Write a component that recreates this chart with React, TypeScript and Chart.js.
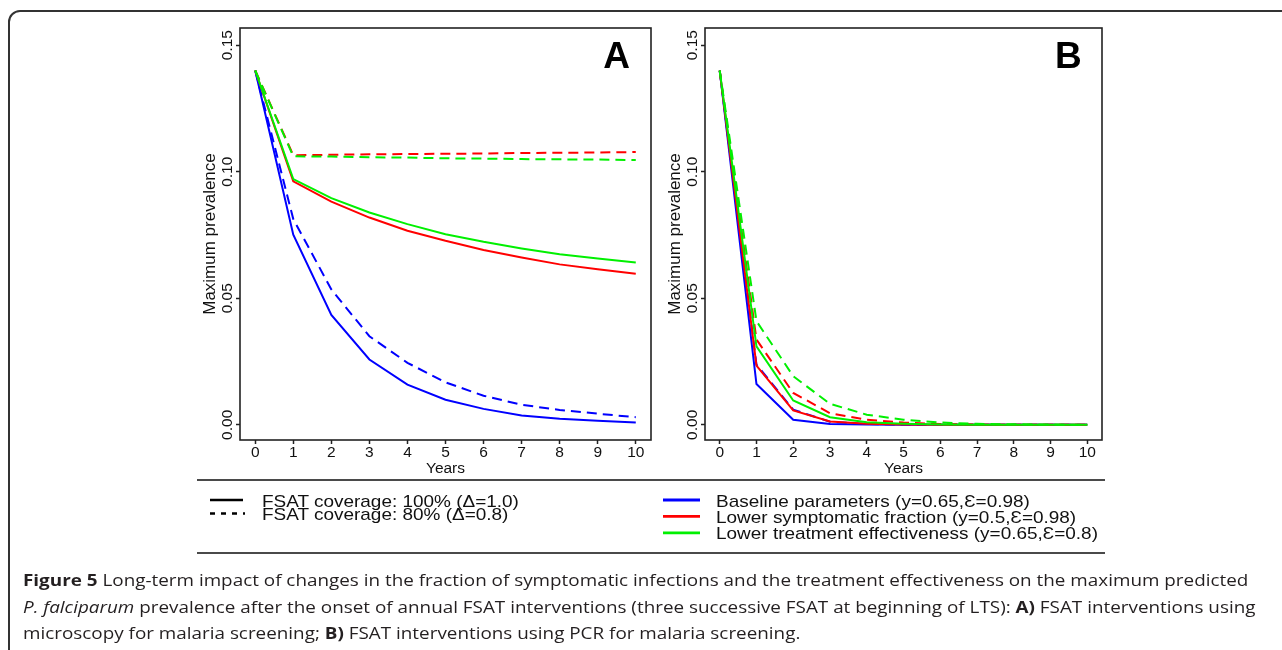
import React, { useEffect, useRef } from "react";
import { Chart, registerables } from "chart.js";

Chart.register(...registerables);

// ---------- data ----------
const years = [0, 1, 2, 3, 4, 5, 6, 7, 8, 9, 10];
const xTickValues = [0, 1, 2, 3, 4, 5, 6, 7, 8, 9, 10];
const yTickValues = [0, 0.05, 0.1, 0.15];
const yTickLabels = ["0.00", "0.05", "0.10", "0.15"];

// Panel A (microscopy)
const aBaseline100 = [0.14, 0.0751, 0.0434, 0.0258, 0.0159, 0.0099, 0.0063, 0.0037, 0.0024, 0.0016, 0.0009];
const aBaseline80 = [0.14, 0.0813, 0.0535, 0.035, 0.0245, 0.0168, 0.0115, 0.0079, 0.0059, 0.0044, 0.003];
const aSympt100 = [0.14, 0.0962, 0.0882, 0.0819, 0.0767, 0.0727, 0.0691, 0.0661, 0.0634, 0.0615, 0.0597];
const aSympt80 = [0.14, 0.1065, 0.1067, 0.1069, 0.107, 0.1071, 0.1072, 0.1074, 0.1075, 0.1076, 0.1078];
const aTreat100 = [0.14, 0.0971, 0.0896, 0.0839, 0.0793, 0.0753, 0.0723, 0.0697, 0.0674, 0.0657, 0.0641];
const aTreat80 = [0.14, 0.1061, 0.106, 0.1057, 0.1056, 0.1053, 0.1052, 0.105, 0.1049, 0.1048, 0.1046];

// Panel B (PCR)
const bBaseline100 = [0.14, 0.0161, 0.002, 0.0003, 0.0001, 0, 0, 0, 0, 0, 0];
const bBaseline80 = [0.14, 0.0238, 0.006, 0.0012, 0.0003, 0.0001, 0, 0, 0, 0, 0];
const bSympt100 = [0.14, 0.0234, 0.0057, 0.0013, 0.0004, 0.0001, 0, 0, 0, 0, 0];
const bSympt80 = [0.14, 0.0337, 0.0126, 0.0046, 0.002, 0.0009, 0.0003, 0.0001, 0, 0, 0];
const bTreat100 = [0.14, 0.031, 0.0096, 0.003, 0.001, 0.0004, 0.0001, 0, 0, 0, 0];
const bTreat80 = [0.14, 0.041, 0.0192, 0.0083, 0.004, 0.002, 0.0009, 0.0004, 0.0002, 0.0001, 0];

const BLUE = "#0000ff";
const RED = "#ff0000";
const GREEN = "#00f000";
const DASH = [10, 6];

const FONT = '"Liberation Sans", Arial, Helvetica, sans-serif';

type Series = { values: number[]; color: string; dashed: boolean };

const panelA: Series[] = [
  { values: aBaseline100, color: BLUE, dashed: false },
  { values: aBaseline80, color: BLUE, dashed: true },
  { values: aSympt100, color: RED, dashed: false },
  { values: aSympt80, color: RED, dashed: true },
  { values: aTreat100, color: GREEN, dashed: false },
  { values: aTreat80, color: GREEN, dashed: true },
];
const panelB: Series[] = [
  { values: bBaseline100, color: BLUE, dashed: false },
  { values: bBaseline80, color: BLUE, dashed: true },
  { values: bSympt100, color: RED, dashed: false },
  { values: bSympt80, color: RED, dashed: true },
  { values: bTreat100, color: GREEN, dashed: false },
  { values: bTreat80, color: GREEN, dashed: true },
];

const boxPlugin = {
  id: "panelBox",
  afterDraw(chart: any, _args: any, opts: any) {
    const { ctx, chartArea } = chart;
    const { left, top, right, bottom } = chartArea;
    ctx.save();
    ctx.strokeStyle = "#222";
    ctx.lineWidth = 1.6;
    ctx.strokeRect(left, top, right - left, bottom - top);
    ctx.fillStyle = "#000";
    ctx.font = "bold 37px " + FONT;
    ctx.textAlign = "right";
    ctx.textBaseline = "alphabetic";
    ctx.fillText(opts.label, right - opts.dx, top + opts.dy);
    ctx.restore();
  },
};

function makeChart(canvas: HTMLCanvasElement, series: Series[], label: string, rightPad: number, dx: number) {
  const n = series.length;
  const datasets = series.map((s, i) => ({
    data: years.map((x, j) => ({ x, y: s.values[j] })),
    borderColor: s.color,
    backgroundColor: s.color,
    borderWidth: 2,
    borderDash: s.dashed ? DASH : [],
    pointRadius: 0,
    tension: 0,
    fill: false,
    order: n - i,
  }));
  const tickFont = { family: FONT, size: 15.5, lineHeight: 1 };
  return new Chart(canvas, {
    type: "line",
    data: { datasets },
    plugins: [boxPlugin],
    options: {
      responsive: false,
      animation: false,
      events: [],
      layout: { padding: { top: 8, right: rightPad, left: 0, bottom: 0 } },
      plugins: {
        legend: { display: false },
        tooltip: { enabled: false },
        panelBox: { label, dx, dy: 40.3 },
      } as any,
      scales: {
        x: {
          type: "linear",
          min: -0.4,
          max: 10.4,
          afterBuildTicks: (s: any) => {
            s.ticks = xTickValues.map((v) => ({ value: v }));
          },
          afterFit: (s: any) => {
            s.height = 40;
          },
          ticks: {
            color: "#111",
            font: tickFont,
            padding: 1,
            maxRotation: 0,
            autoSkip: false,
            callback: (v: any) => String(v),
          },
          grid: {
            drawOnChartArea: false,
            drawTicks: true,
            tickLength: 4,
            tickColor: "#222",
            tickWidth: 1.5,
          },
          border: { display: false },
          title: {
            display: true,
            text: "Years",
            color: "#111",
            font: { family: FONT, size: 15.5, lineHeight: 1.2 },
            padding: { top: 0, bottom: 2 },
          },
        },
        y: {
          type: "linear",
          min: -0.006,
          max: 0.1568,
          afterBuildTicks: (s: any) => {
            s.ticks = yTickValues.map((v) => ({ value: v }));
          },
          afterFit: (s: any) => {
            s.width = 45;
          },
          ticks: {
            color: "#111",
            font: tickFont,
            minRotation: 90,
            maxRotation: 90,
            crossAlign: "center",
            padding: -6.5,
            autoSkip: false,
            callback: (v: any) => {
              const i = yTickValues.indexOf(v);
              return i >= 0 ? yTickLabels[i] : "";
            },
          },
          grid: {
            drawOnChartArea: false,
            drawTicks: true,
            tickLength: 4,
            tickColor: "#222",
            tickWidth: 1.5,
          },
          border: { display: false },
          title: {
            display: true,
            text: "Maximum prevalence",
            color: "#111",
            font: { family: FONT, size: 17, lineHeight: 1.2 },
            padding: { top: 5.5, bottom: 0 },
          },
        },
      },
    } as any,
  });
}

const legendText: React.CSSProperties = {
  position: "absolute",
  fontFamily: FONT,
  fontSize: 17,
  lineHeight: "19px",
  color: "#111",
  whiteSpace: "nowrap",
  transform: "scaleX(1.115)",
  transformOrigin: "left center",
};

const coverageLabels = ["FSAT coverage: 100% (\u0394=1.0)", "FSAT coverage: 80% (\u0394=0.8)"];
const scenarioLabels = [
  "Baseline parameters (y=0.65,\u0190=0.98)",
  "Lower symptomatic fraction (y=0.5,\u0190=0.98)",
  "Lower treatment effectiveness (y=0.65,\u0190=0.8)",
];
const scenarioColors = [BLUE, RED, GREEN];

export default function App() {
  const refA = useRef<HTMLCanvasElement>(null);
  const refB = useRef<HTMLCanvasElement>(null);

  useEffect(() => {
    Chart.defaults.font.family = FONT;
    const a = makeChart(refA.current!, panelA, "A", 4, 21);
    const b = makeChart(refB.current!, panelB, "B", 8, 20.3);
    return () => {
      a.destroy();
      b.destroy();
    };
  }, []);

  return (
    <div
      style={{
        position: "absolute",
        left: 0,
        top: 0,
        width: 1282,
        height: 650,
        overflow: "hidden",
        background: "#fff",
      }}
    >
      <div
        style={{
          position: "absolute",
          left: 8,
          top: 10,
          width: 1320,
          height: 720,
          border: "2px solid #333",
          borderRadius: 12,
        }}
      />
      <canvas
        ref={refA}
        width={460}
        height={460}
        style={{ position: "absolute", left: 195, top: 20, width: 460, height: 460 }}
      />
      <canvas
        ref={refB}
        width={450}
        height={460}
        style={{ position: "absolute", left: 660, top: 20, width: 450, height: 460 }}
      />
      <div style={{ position: "absolute", left: 197, top: 479, width: 908, height: 2, background: "#4a4a4a" }} />
      <div style={{ position: "absolute", left: 197, top: 552, width: 908, height: 2, background: "#4a4a4a" }} />

      <svg style={{ position: "absolute", left: 0, top: 0 }} width={1282} height={650}>
        <line x1={210} y1={500} x2={243} y2={500} stroke="#000" strokeWidth={2.6} />
        <line x1={210} y1={513.5} x2={245} y2={513.5} stroke="#000" strokeWidth={2.6} strokeDasharray="5 6" />
        {scenarioColors.map((c, i) => (
          <line key={i} x1={663} y1={500 + i * 16.4} x2={700} y2={500 + i * 16.4} stroke={c} strokeWidth={2.8} />
        ))}
      </svg>

      {coverageLabels.map((t, i) => (
        <div key={t} style={{ ...legendText, left: 262, top: 491.9 + i * 12.7 }}>
          {t}
        </div>
      ))}
      {scenarioLabels.map((t, i) => (
        <div key={t} style={{ ...legendText, left: 716, top: 491.9 + i * 15.9 }}>
          {t}
        </div>
      ))}

      <div
        style={{
          position: "absolute",
          left: 23,
          top: 567.2,
          fontFamily: '"Open Sans", "Noto Sans", sans-serif',
          fontSize: 16.5,
          lineHeight: "26.4px",
          color: "#231f20",
          whiteSpace: "nowrap",
          transform: "scaleX(1.143)",
          transformOrigin: "left top",
        }}
      >
        <div>
          <b>Figure 5</b> Long-term impact of changes in the fraction of symptomatic infections and the treatment
          effectiveness on the maximum predicted
        </div>
        <div>
          <i>P. falciparum</i> prevalence after the onset of annual FSAT interventions (three successive FSAT at
          beginning of LTS): <b>A)</b> FSAT interventions using
        </div>
        <div>
          microscopy for malaria screening; <b>B)</b> FSAT interventions using PCR for malaria screening.
        </div>
      </div>
    </div>
  );
}
